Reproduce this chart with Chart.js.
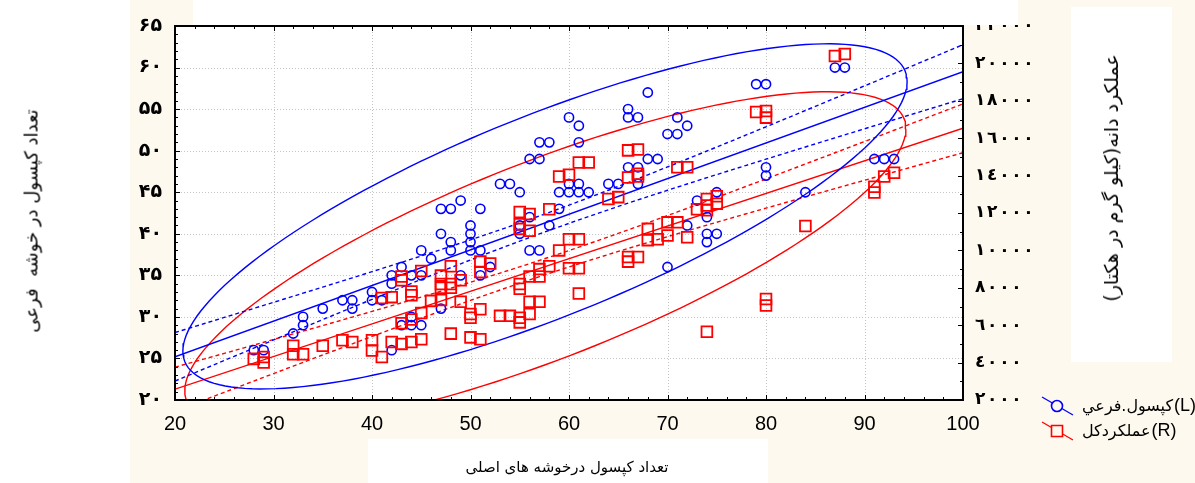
<!DOCTYPE html>
<html>
<head>
<meta charset="utf-8">
<script src="https://cdn.jsdelivr.net/npm/chart.js@4.4.1/dist/chart.umd.min.js"></script>
<style>
body { margin: 0; background: #fff; }
#wrap { position: relative; width: 1195px; height: 483px; overflow: hidden; }
.bg { position: absolute; left: 130px; top: 0; width: 1065px; height: 483px; background: #fdf9ee; }
.box { position: absolute; background: #fff; }
canvas { position: absolute; left: 0; top: 0; }
.title { position: absolute; font-family: 'DejaVu Sans', sans-serif; color: #000; white-space: pre; transform-origin: center; }
</style>
</head>
<body>
<div id="wrap">
  <div class="bg"></div>
  <div class="box" style="left:1071px;top:7px;width:101px;height:355px"></div>
  <div class="box" style="left:368px;top:439px;width:400px;height:44px"></div>
  <canvas id="chart" width="1195" height="483"></canvas>
  <div class="box" style="left:193px;top:0;width:825px;height:25px;z-index:2"></div>
  <div class="title" id="yTitle" style="left:31px;top:221px;font-size:18px;transform:translate(-50%,-50%) rotate(-90deg)"></div>
  <div class="title" id="y2Title" style="left:1111px;top:178px;font-size:19px;transform:translate(-50%,-50%) rotate(-90deg)"></div>
  <div class="title" id="xTitle" style="left:567px;top:467px;font-size:15px;transform:translate(-50%,-50%)"></div>
</div>
<script>
// Axis ranges and ticks.
const xRange = [20, 100];
const yRange = [20, 65];
const y2Range = [2000, 22000];
const xSteps = [10, 2];
const ySteps = [5, 1];
const y2Steps = [2000, 1000];

// Titles and legend.
const xTitle = 'تعداد کپسول درخوشه های اصلی';
const yTitle = 'تعداد کپسول در خوشه  فرعی';
const y2Title = 'عملکرد دانه(کیلو گرم در هکتار)';
const seriesNames = ['کپسول.فرعي', 'عملکردکل'];
const seriesTags = ['(L)', '(R)'];

// Series L: capsules on secondary spikes.
const blueX = [28, 29, 32, 33, 33, 35, 37, 38, 38, 40, 40, 41, 42, 42, 43, 44, 45, 45, 46, 43,
    44, 44, 45, 42, 47, 48, 51, 50, 50, 50, 50, 47, 48, 48, 51, 52, 49, 51, 47, 55,
    55, 56, 56, 57, 58, 59, 70, 72, 74, 74, 75, 74, 73, 49, 53, 54, 55, 56, 57, 57,
    58, 60, 61, 61, 59, 60, 61, 62, 60, 61, 64, 65, 66, 67, 67, 68, 69, 66, 66, 67,
    68, 70, 71, 71, 72, 75, 79, 80, 87, 88, 80, 80, 91, 92, 93, 84];
const blueY = [26, 26, 28, 30, 29, 31, 32, 32, 31, 33, 32, 32, 35, 34, 36, 35, 38, 35, 37, 29,
    29, 30, 29, 26, 43, 43, 43, 41, 40, 39, 38, 40, 39, 38, 38, 36, 35, 35, 31, 41,
    40, 42, 38, 38, 41, 43, 36, 41, 42, 40, 40, 39, 44, 44, 46, 46, 45, 49, 49, 51,
    51, 54, 53, 51, 45, 45, 45, 45, 46, 46, 46, 46, 48, 48, 46, 49, 49, 55, 54, 54,
    57, 52, 52, 54, 53, 45, 58, 58, 60, 60, 48, 47, 49, 49, 49, 45];

// Series R: total grain yield (kg/ha).
const redX = [28, 29, 29, 32, 32, 33, 35, 37, 38, 40, 40, 41, 42, 43, 44, 45, 41, 42, 43, 43,
    44, 44, 45, 43, 44, 45, 46, 55, 56, 58, 55, 55, 56, 59, 60, 61, 60, 61, 61, 58,
    57, 57, 56, 55, 55, 56, 57, 55, 55, 56, 54, 53, 51, 50, 50, 51, 50, 48, 49, 47,
    47, 47, 48, 48, 49, 47, 48, 51, 51, 52, 66, 67, 66, 68, 68, 69, 70, 71, 70, 72,
    73, 74, 74, 75, 74, 59, 60, 61, 62, 66, 67, 66, 67, 67, 64, 65, 71, 72, 74, 75,
    87, 88, 79, 80, 80, 91, 91, 92, 93, 84, 80, 80];
const redY = [4200, 4300, 4000, 4900, 4450, 4450, 4900, 5200, 5100, 5200, 4650, 4300, 5100, 5000, 5100, 5250, 7450, 7500, 8400, 8600,
    7600, 7800, 8900, 6100, 6300, 6650, 7300, 12050, 11950, 12200, 11150, 11400, 11050, 10000, 10600, 10600, 9050, 9050, 7700, 9150,
    9000, 8600, 8600, 8200, 7950, 7250, 7250, 6400, 6150, 6600, 6500, 6500, 6850, 6600, 6400, 5250, 5350, 5550, 7250, 7350,
    8200, 8000, 8200, 8000, 8400, 8650, 9150, 9400, 8850, 9300, 9650, 9650, 9400, 11150, 10550, 10600, 11500, 11500, 10800, 10700,
    12200, 12400, 12150, 12500, 5650, 13950, 14050, 14700, 14700, 15350, 15400, 13900, 13950, 14100, 12750, 12850, 14450, 14450, 12750, 12900,
    20400, 20500, 17400, 17450, 17100, 13400, 13100, 13950, 14150, 11300, 7400, 7050];

// Fitted lines as drawn in the picture, value at each end of the x range.
const blueLine = [25.2, 59.5];
const redLine = [2580, 16530];

document.getElementById('xTitle').textContent = xTitle;
document.getElementById('yTitle').textContent = yTitle;
document.getElementById('y2Title').textContent = y2Title;

const BLUE = '#0000ff';
const RED = '#ff0000';
const CREAM = '#fdf9ee';
const ELLIPSE_LEVEL = 5.99;   // chi-square, 2 df, 95%

// Summary numbers of a sample.
function stats(xs, ys) {
    const n = xs.length;
    const mx = xs.reduce((a, b) => a + b, 0) / n;
    const my = ys.reduce((a, b) => a + b, 0) / n;
    let sxx = 0, syy = 0, sxy = 0;
    for (let i = 0; i < n; i++) {
        sxx += (xs[i] - mx) ** 2;
        syy += (ys[i] - my) ** 2;
        sxy += (xs[i] - mx) * (ys[i] - my);
    }
    const b = sxy / sxx;
    const s = Math.sqrt((syy - b * sxy) / (n - 2));
    return { n, mx, my, sxx, syy, sxy, s };
}

function lineAt(line, x) {
    return line[0] + (line[1] - line[0]) * (x - xRange[0]) / (xRange[1] - xRange[0]);
}

function fitLine(line) {
    return xRange.map((x, i) => ({ x: x, y: line[i] }));
}

// 95% confidence band round the line.
function band(f, line, sign) {
    const pts = [];
    for (let x = xRange[0]; x <= xRange[1]; x += 1) {
        const h = 1.986 * f.s * Math.sqrt(1 / f.n + (x - f.mx) ** 2 / f.sxx);
        pts.push({ x: x, y: lineAt(line, x) + sign * h });
    }
    return pts;
}

// Normal ellipse from the sample covariance.
function ellipse(f) {
    const k = Math.sqrt(ELLIPSE_LEVEL);
    const cxx = f.sxx / (f.n - 1), cyy = f.syy / (f.n - 1), cxy = f.sxy / (f.n - 1);
    const l11 = Math.sqrt(cxx), l21 = cxy / l11, l22 = Math.sqrt(cyy - l21 * l21);
    const pts = [];
    for (let d = 0; d <= 360; d += 2) {
        const t = d * Math.PI / 180;
        pts.push({ x: f.mx + k * l11 * Math.cos(t), y: f.my + k * (l21 * Math.cos(t) + l22 * Math.sin(t)) });
    }
    return pts;
}

const blueStats = stats(blueX, blueY);
const redStats = stats(redX, redY);

function lineSet(data, color, axis, dash) {
    return {
        data: data, yAxisID: axis, showLine: true, pointRadius: 0, borderColor: color,
        borderWidth: 1.4, borderDash: dash, fill: false, tension: 0, clip: 0, order: 5
    };
}

// Grid, inner ticks and the black frame.
const frame = {
    id: 'frame',
    beforeDatasetsDraw(chart) {
        const { ctx, chartArea: a, scales } = chart;
        ctx.save();
        ctx.fillStyle = '#fff';
        ctx.fillRect(a.left, a.top, a.width, a.height);
        ctx.strokeStyle = '#c4c4c4';
        ctx.lineWidth = 1;
        ctx.setLineDash([1, 2]);
        ctx.beginPath();
        for (let v = xRange[0] + xSteps[0]; v < xRange[1]; v += xSteps[0]) {
            const p = Math.round(scales.x.getPixelForValue(v)) + 0.5;
            ctx.moveTo(p, a.top); ctx.lineTo(p, a.bottom);
        }
        for (let v = yRange[0] + ySteps[0]; v < yRange[1]; v += ySteps[0]) {
            const p = Math.round(scales.y.getPixelForValue(v)) + 0.5;
            ctx.moveTo(a.left, p); ctx.lineTo(a.right, p);
        }
        ctx.stroke();
        ctx.restore();
    },
    afterDatasetsDraw(chart) {
        const { ctx, chartArea: a, scales } = chart;
        ctx.save();
        ctx.strokeStyle = '#000';
        ctx.lineWidth = 1;
        ctx.beginPath();
        for (let v = xRange[0]; v <= xRange[1]; v += xSteps[1]) {
            const p = Math.round(scales.x.getPixelForValue(v)) + 0.5;
            const len = (v - xRange[0]) % xSteps[0] === 0 ? 5 : 3;
            ctx.moveTo(p, a.top); ctx.lineTo(p, a.top + len);
            ctx.moveTo(p, a.bottom); ctx.lineTo(p, a.bottom - len);
        }
        for (let v = yRange[0]; v <= yRange[1]; v += ySteps[1]) {
            const p = Math.round(scales.y.getPixelForValue(v)) + 0.5;
            const len = (v - yRange[0]) % ySteps[0] === 0 ? 5 : 3;
            ctx.moveTo(a.left, p); ctx.lineTo(a.left + len, p);
        }
        for (let v = y2Range[0]; v <= y2Range[1]; v += y2Steps[1]) {
            const p = Math.round(scales.y2.getPixelForValue(v)) + 0.5;
            const len = (v - y2Range[0]) % y2Steps[0] === 0 ? 5 : 3;
            ctx.moveTo(a.right, p); ctx.lineTo(a.right - len, p);
        }
        ctx.stroke();
        ctx.lineWidth = 2;
        ctx.strokeRect(a.left, a.top, a.width, a.height);
        ctx.restore();
    },
    afterDraw(chart) {
        // Legend at the lower right.
        const ctx = chart.ctx;
        ctx.save();
        const rows = [
            { y: 406, color: BLUE, shape: 'circle' },
            { y: 431, color: RED, shape: 'rect' }
        ];
        rows.forEach((r, i) => {
            ctx.strokeStyle = r.color;
            ctx.lineWidth = 1.3;
            ctx.beginPath();
            ctx.moveTo(1042, r.y - 9); ctx.lineTo(1073, r.y + 9);
            ctx.stroke();
            ctx.fillStyle = CREAM;
            ctx.lineWidth = 1.6;
            ctx.beginPath();
            if (r.shape === 'circle') ctx.arc(1057, r.y, 5.5, 0, Math.PI * 2);
            else ctx.rect(1051.5, r.y - 5.5, 11, 11);
            ctx.fill();
            ctx.stroke();
            ctx.fillStyle = '#000';
            ctx.textBaseline = 'middle';
            ctx.textAlign = 'left';
            ctx.font = '16px "DejaVu Sans"';
            const w = ctx.measureText(seriesNames[i]).width;
            ctx.fillText(seriesNames[i], 1082, r.y + 1);
            ctx.font = '18px "Liberation Sans"';
            ctx.fillText(seriesTags[i], 1083 + w, r.y);
        });
        ctx.restore();
    }
};

// Tick label digits: Persian on the left, Arabic-Indic (spaced, kept in order) on the right.
const persian = v => String(v).replace(/\d/g, d => '۰۱۲۳۴۵۶۷۸۹'[d]);
const arabic = v => '\u200E' + String(v).replace(/\d/g, d => '٠١٢٣٤٥٦٧٨٩'[d]).split('').join('\u200E\u200A\u200E');

const ctx = document.getElementById('chart').getContext('2d');
new Chart(ctx, {
    type: 'scatter',
    data: {
        datasets: [
            {
                data: redX.map((x, i) => ({ x: x, y: redY[i] })), yAxisID: 'y2',
                pointStyle: 'rect', pointRadius: 7.6, borderColor: RED, backgroundColor: 'rgba(0,0,0,0)',
                borderWidth: 1.8, order: 1
            },
            {
                data: blueX.map((x, i) => ({ x: x, y: blueY[i] })), yAxisID: 'y',
                pointStyle: 'circle', pointRadius: 4.6, borderColor: BLUE, backgroundColor: 'rgba(0,0,0,0)',
                borderWidth: 1.6, order: 2
            },
            lineSet(fitLine(blueLine), BLUE, 'y', []),
            lineSet(band(blueStats, blueLine, 1), BLUE, 'y', [4, 3]),
            lineSet(band(blueStats, blueLine, -1), BLUE, 'y', [4, 3]),
            lineSet(ellipse(blueStats), BLUE, 'y', []),
            lineSet(fitLine(redLine), RED, 'y2', []),
            lineSet(band(redStats, redLine, 1), RED, 'y2', [4, 3]),
            lineSet(band(redStats, redLine, -1), RED, 'y2', [4, 3]),
            lineSet(ellipse(redStats), RED, 'y2', [])
        ]
    },
    options: {
        responsive: false,
        animation: false,
        devicePixelRatio: 1,
        events: [],
        layout: { padding: { top: 26, left: 0, right: 0, bottom: 0 } },
        plugins: { legend: { display: false }, tooltip: { enabled: false } },
        scales: {
            x: {
                type: 'linear', min: xRange[0], max: xRange[1],
                grid: { display: false, drawTicks: false }, border: { display: false },
                ticks: { stepSize: xSteps[0], padding: 12, color: '#000', font: { family: 'Liberation Sans', size: 20 } },
                afterFit: s => { s.height = 83; }
            },
            y: {
                type: 'linear', position: 'left', min: yRange[0], max: yRange[1],
                grid: { display: false, drawTicks: false }, border: { display: false },
                ticks: { stepSize: ySteps[0], padding: 13, color: '#000', callback: persian,
                    font: { family: 'DejaVu Sans', size: 19, weight: 'bold' } },
                afterFit: s => { s.width = 175; }
            },
            y2: {
                type: 'linear', position: 'right', min: y2Range[0], max: y2Range[1],
                grid: { display: false, drawTicks: false }, border: { display: false },
                ticks: { stepSize: y2Steps[0], padding: 12, color: '#000', callback: arabic,
                    font: { family: 'DejaVu Sans', size: 17, weight: 'bold' } },
                afterFit: s => { s.width = 232; }
            }
        }
    },
    plugins: [frame]
});
</script>
</body>
</html>
